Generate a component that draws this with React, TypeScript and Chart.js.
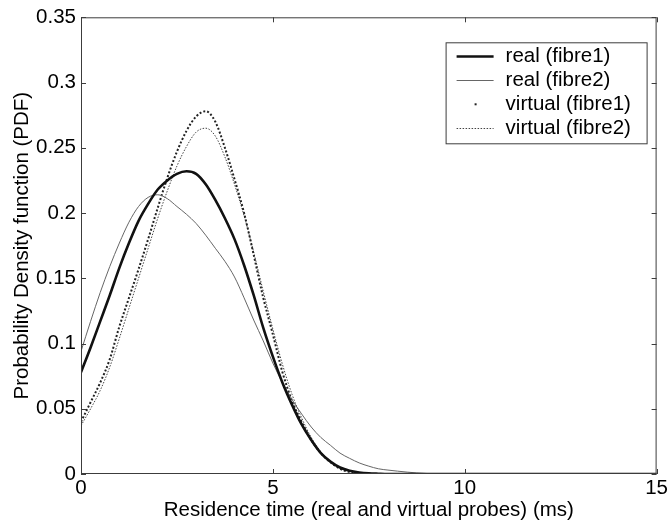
import React, { useEffect, useRef } from "react";
import { Chart, registerables } from "chart.js";

Chart.register(...registerables);

// Residence time (ms)
const timeMs = [
  0, 0.25, 0.5, 0.75, 1, 1.25, 1.5, 1.75, 2, 2.25, 2.5, 2.75, 3, 3.25, 3.5, 3.75,
  4, 4.25, 4.5, 4.75, 5, 5.25, 5.5, 5.75, 6, 6.25, 6.5, 6.75, 7, 7.25, 7.5, 7.75,
  8, 9, 10, 11, 12, 13, 14, 15,
];

const realFibre1 = [
  0.078, 0.097, 0.117, 0.137, 0.158, 0.177, 0.194, 0.207, 0.218, 0.225, 0.23, 0.232,
  0.23, 0.222, 0.21, 0.196, 0.18, 0.16, 0.137, 0.112, 0.09, 0.07, 0.053, 0.038,
  0.026, 0.016, 0.0095, 0.005, 0.0025, 0.0012, 0.0005, 0.0002, 0, 0, 0, 0, 0, 0, 0, 0,
];

const realFibre2 = [
  0.094, 0.117, 0.139, 0.159, 0.177, 0.193, 0.205, 0.212, 0.214, 0.211, 0.205, 0.199,
  0.192, 0.183, 0.173, 0.163, 0.151, 0.135, 0.118, 0.102, 0.085, 0.07, 0.057, 0.046,
  0.036, 0.028, 0.022, 0.016, 0.012, 0.0085, 0.006, 0.004, 0.003, 0.0004, 0, 0, 0, 0, 0, 0,
];

const virtualFibre1 = [
  0.04, 0.055, 0.07, 0.088, 0.113, 0.135, 0.157, 0.18, 0.204, 0.227, 0.247, 0.263,
  0.274, 0.278, 0.27, 0.25, 0.226, 0.2, 0.168, 0.135, 0.107, 0.078, 0.056, 0.04,
  0.026, 0.016, 0.009, 0.004, 0.0015, 0.0005, 0, 0, 0, 0, 0, 0, 0, 0, 0, 0,
];

const virtualFibre2 = [
  0.037, 0.05, 0.064, 0.082, 0.104, 0.127, 0.15, 0.173, 0.196, 0.217, 0.236, 0.251,
  0.262, 0.265, 0.259, 0.243, 0.222, 0.198, 0.17, 0.14, 0.111, 0.084, 0.061, 0.043,
  0.028, 0.017, 0.01, 0.005, 0.002, 0.0008, 0, 0, 0, 0, 0, 0, 0, 0, 0, 0,
];

const seriesLabels = ["real (fibre1)", "real (fibre2)", "virtual (fibre1)", "virtual (fibre2)"];
const xTickValues = [0, 5, 10, 15];
const yTickValues = [0, 0.05, 0.1, 0.15, 0.2, 0.25, 0.3, 0.35];
const xTitle = "Residence time (real and virtual probes) (ms)";
const yTitle = "Probability Density function (PDF)";

const FONT_FAMILY = '"Liberation Sans", Arial, Helvetica, sans-serif';
const FONT_SIZE = 20.5;
const AXIS_COLOR = "#3c3c3c";

const toPoints = (ys: number[]) => timeMs.map((x, i) => ({ x, y: ys[i] }));

type LegendStyle = { kind: "line" | "dot"; width: number; dash: number[]; color: string };
const legendStyles: LegendStyle[] = [
  { kind: "line", width: 2.6, dash: [], color: "#111" },
  { kind: "line", width: 1, dash: [], color: "#666" },
  { kind: "dot", width: 2, dash: [], color: "#222" },
  { kind: "line", width: 1, dash: [1.5, 1.5], color: "#444" },
];

const framePlugin = {
  id: "matlabFrame",
  afterDraw(chart: any) {
    const { ctx, chartArea, scales } = chart;
    const { left, right, top, bottom } = chartArea;
    ctx.save();
    ctx.strokeStyle = AXIS_COLOR;
    ctx.lineWidth = 1;
    ctx.setLineDash([]);
    ctx.strokeRect(left + 0.5, top + 0.5, right - left - 1, bottom - top - 1);
    const tl = 5;
    ctx.beginPath();
    for (const v of xTickValues) {
      const px = Math.round(scales.x.getPixelForValue(v)) + 0.5;
      ctx.moveTo(px, bottom);
      ctx.lineTo(px, bottom - tl);
      ctx.moveTo(px, top);
      ctx.lineTo(px, top + tl);
    }
    for (const v of yTickValues) {
      const py = Math.round(scales.y.getPixelForValue(v)) + 0.5;
      ctx.moveTo(left, py);
      ctx.lineTo(left + tl, py);
      ctx.moveTo(right, py);
      ctx.lineTo(right - tl, py);
    }
    ctx.stroke();

    // legend box
    const bx = right - 211;
    const by = top + 25;
    const bw = 201;
    const bh = 101;
    ctx.fillStyle = "#fff";
    ctx.fillRect(bx, by, bw, bh);
    ctx.strokeStyle = AXIS_COLOR;
    ctx.strokeRect(bx + 0.5, by + 0.5, bw, bh);
    ctx.font = `${FONT_SIZE}px ${FONT_FAMILY}`;
    ctx.textBaseline = "middle";
    ctx.textAlign = "left";
    chart.data.datasets.forEach((ds: any, i: number) => {
      const st = legendStyles[i];
      const cy = by + 14 + i * 24;
      if (st.kind === "line") {
        ctx.beginPath();
        ctx.strokeStyle = st.color;
        ctx.lineWidth = st.width;
        ctx.setLineDash(st.dash);
        ctx.moveTo(bx + 11, Math.round(cy) + 0.5);
        ctx.lineTo(bx + 48, Math.round(cy) + 0.5);
        ctx.stroke();
      } else {
        ctx.fillStyle = st.color;
        ctx.fillRect(bx + 29, cy - 1, 2, 2);
      }
      ctx.setLineDash([]);
      ctx.fillStyle = "#000";
      ctx.fillText(ds.label, bx + 60, cy);
    });
    ctx.restore();
  },
};

export default function App() {
  const canvasRef = useRef<HTMLCanvasElement | null>(null);

  useEffect(() => {
    document.body.style.margin = "0";
    const canvas = canvasRef.current;
    if (!canvas) return;
    const tickFont = { family: FONT_FAMILY, size: FONT_SIZE };
    const chart = new Chart(canvas, {
      type: "line",
      data: {
        datasets: [
          {
            label: seriesLabels[0],
            data: toPoints(realFibre1),
            borderColor: "#111",
            borderWidth: 2.6,
            pointRadius: 0,
            cubicInterpolationMode: "monotone",
          },
          {
            label: seriesLabels[1],
            data: toPoints(realFibre2),
            borderColor: "#666",
            borderWidth: 1,
            pointRadius: 0,
            cubicInterpolationMode: "monotone",
          },
          {
            label: seriesLabels[2],
            data: toPoints(virtualFibre1),
            borderColor: "#222",
            borderWidth: 2,
            borderDash: [2, 2],
            pointRadius: 0,
            cubicInterpolationMode: "monotone",
          },
          {
            label: seriesLabels[3],
            data: toPoints(virtualFibre2),
            borderColor: "#444",
            borderWidth: 1,
            borderDash: [1.5, 1.5],
            pointRadius: 0,
            cubicInterpolationMode: "monotone",
          },
        ],
      },
      options: {
        responsive: false,
        devicePixelRatio: 1,
        animation: false,
        layout: { padding: { top: 17, right: 12, left: 0, bottom: 0 } },
        plugins: { legend: { display: false }, tooltip: { enabled: false } },
        scales: {
          x: {
            type: "linear",
            min: 0,
            max: 15,
            grid: { display: false, drawTicks: false },
            border: { display: false },
            ticks: {
              font: tickFont,
              color: "#000",
              padding: 2,
              maxRotation: 0,
              autoSkip: false,
              callback: (v: any) => String(+Number(v).toFixed(2)),
            },
            afterBuildTicks: (s: any) => {
              s.ticks = xTickValues.map((value) => ({ value }));
            },
            afterFit: (s: any) => {
              s.height = 47;
            },
            title: {
              display: true,
              text: xTitle,
              color: "#000",
              font: { family: FONT_FAMILY, size: FONT_SIZE, lineHeight: 1 },
              padding: { top: 0, bottom: 0 },
            },
          },
          y: {
            type: "linear",
            min: 0,
            max: 0.35,
            grid: { display: false, drawTicks: false },
            border: { display: false },
            ticks: {
              font: tickFont,
              color: "#000",
              padding: 5,
              autoSkip: false,
              callback: (v: any) => String(+Number(v).toFixed(2)),
            },
            afterBuildTicks: (s: any) => {
              s.ticks = yTickValues.map((value) => ({ value }));
            },
            afterFit: (s: any) => {
              s.width = 81;
            },
            title: {
              display: true,
              text: yTitle,
              color: "#000",
              font: { family: FONT_FAMILY, size: FONT_SIZE, lineHeight: 1 },
              padding: { top: 12, bottom: 0 },
            },
          },
        },
      },
      plugins: [framePlugin],
    } as any);
    return () => chart.destroy();
  }, []);

  return (
    <div style={{ width: 670, height: 521 }}>
      <canvas ref={canvasRef} width={670} height={521} style={{ display: "block" }} />
    </div>
  );
}
